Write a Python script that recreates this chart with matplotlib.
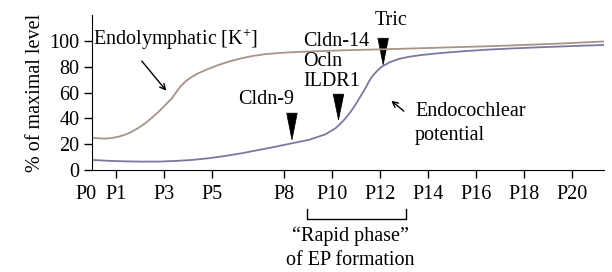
import numpy as np
import matplotlib
matplotlib.use('Agg')
import matplotlib.pyplot as plt
from matplotlib.patches import Polygon

plt.rcParams['font.family'] = ['Liberation Serif', 'DejaVu Serif']
plt.rcParams['mathtext.fontset'] = 'custom'
plt.rcParams['mathtext.rm'] = 'Liberation Serif'
plt.rcParams['mathtext.it'] = 'Liberation Serif:italic'

# postnatal day ticks
tick_days = [0, 1, 3, 5, 8, 10, 12, 14, 16, 18, 20]
tick_labels = ['P0', 'P1', 'P3', 'P5', 'P8', 'P10', 'P12', 'P14', 'P16', 'P18', 'P20']

# endolymphatic [K+] (% of max)
k_days = [0, 0.28, 0.56, 0.83, 1.11, 1.39, 1.67, 1.94, 2.22, 2.5, 2.78, 3.06, 3.33, 3.5, 3.68, 3.89,
          4.15, 4.44, 4.85, 5.28, 5.75, 6.25, 6.7, 7.22, 7.8, 8.33, 9.0, 9.72, 10.7, 11.8, 12.8, 13.75,
          15.0, 16.5, 18.0, 19.5, 21.33]
k_vals = [25.0, 24.5, 24.3, 24.8, 25.8, 27.4, 29.7, 32.7, 36.2, 40.5, 45.2, 50.4, 55.6, 60.0, 64.6, 68.5,
          72.0, 75.0, 78.3, 81.4, 84.2, 86.6, 88.3, 89.7, 90.6, 91.2, 91.7, 92.2, 92.8, 93.3, 93.8, 94.3,
          95.0, 95.8, 96.8, 97.9, 99.5]

# endocochlear potential (% of max)
ep_days = [0, 0.7, 1.39, 2.08, 2.78, 3.47, 4.17, 4.86, 5.56, 6.25, 6.94, 7.64, 8.33, 9.03, 9.72, 10.14,
           10.35, 10.56, 10.77, 10.97, 11.18, 11.39, 11.53, 11.67, 11.88, 12.08, 12.4, 12.78, 13.25, 13.75,
           14.5, 15.5, 16.5, 17.5, 18.5, 19.5, 20.5, 21.33]
ep_vals = [7.8, 7.1, 6.7, 6.5, 6.5, 7.0, 7.8, 9.1, 10.9, 13.0, 15.5, 18.0, 20.7, 23.3, 27.6, 32.3,
           35.8, 40.0, 45.0, 50.4, 56.8, 63.3, 68.3, 72.4, 76.8, 80.1, 83.4, 86.0, 87.8, 89.1,
           90.5, 92.0, 93.2, 94.1, 94.9, 95.6, 96.3, 96.8]

# marker arrowheads: (day, top, tip)
heads = [(8.33, 44, 23.3), (10.27, 58.7, 38.8), (12.13, 102, 81.4)]

fs = 14.5

fig = plt.figure(figsize=(6.12, 2.72), dpi=100)
ax = fig.add_axes([92/612, 1 - 170/272, (604 - 92)/612, 155/272])

ax.plot(k_days, k_vals, color='#a8928a', lw=1.3)
ax.plot(ep_days, ep_vals, color='#7a78a2', lw=1.3)

for d, top, tip in heads:
    hw = 0.22
    ax.add_patch(Polygon([[d - hw, top], [d + hw, top], [d, tip]], closed=True,
                         facecolor='k', edgecolor='k', lw=0.5))

ax.set_xlim(0, 21.33)
ax.set_ylim(0, 120)
ax.set_yticks([0, 20, 40, 60, 80, 100])
ax.set_xticks(tick_days[1:])
ax.set_xticklabels(tick_labels[1:])
ax.text(-0.25, -19, tick_labels[0], ha='center', va='center', fontsize=fs)
ax.spines['top'].set_visible(False)
ax.spines['right'].set_visible(False)
ax.tick_params(direction='out', length=6, width=1, labelsize=fs)
ax.tick_params(axis='x', pad=5)
ax.tick_params(axis='y', pad=3)
ax.set_ylabel('% of maximal level', fontsize=fs, labelpad=3)

ax.text(0.04, 100.8, 'Endolymphatic [K$^{+}$]', ha='left', va='center', fontsize=fs)
ax.annotate('', xy=(3.17, 59.7), xytext=(2.0, 86),
            arrowprops=dict(arrowstyle='->', color='k', lw=1))
ax.text(7.25, 54.3, 'Cldn-9', ha='center', va='center', fontsize=fs)
for i, s in enumerate(['Cldn-14', 'Ocln', 'ILDR1']):
    ax.text(8.79, 99.2 - i*15.5, s, ha='left', va='center', fontsize=fs)
ax.text(12.46, 116, 'Tric', ha='center', va='center', fontsize=fs)
ax.text(13.46, 45, 'Endocochlear', ha='left', va='center', fontsize=fs)
ax.text(13.46, 27, 'potential', ha='left', va='center', fontsize=fs)
ax.annotate('', xy=(12.38, 55), xytext=(13.08, 44.2),
            arrowprops=dict(arrowstyle='->', color='k', lw=1))

# rapid phase bracket
ax.plot([8.96, 8.96, 13.08, 13.08], [-30.2, -38, -38, -30.2], color='k', lw=1, clip_on=False)
ax.text(10.75, -51.2, '\u201cRapid phase\u201d', ha='center', va='center', fontsize=fs)
ax.text(10.75, -69.8, 'of EP formation', ha='center', va='center', fontsize=fs)

fig.savefig('out.png', dpi=100)
